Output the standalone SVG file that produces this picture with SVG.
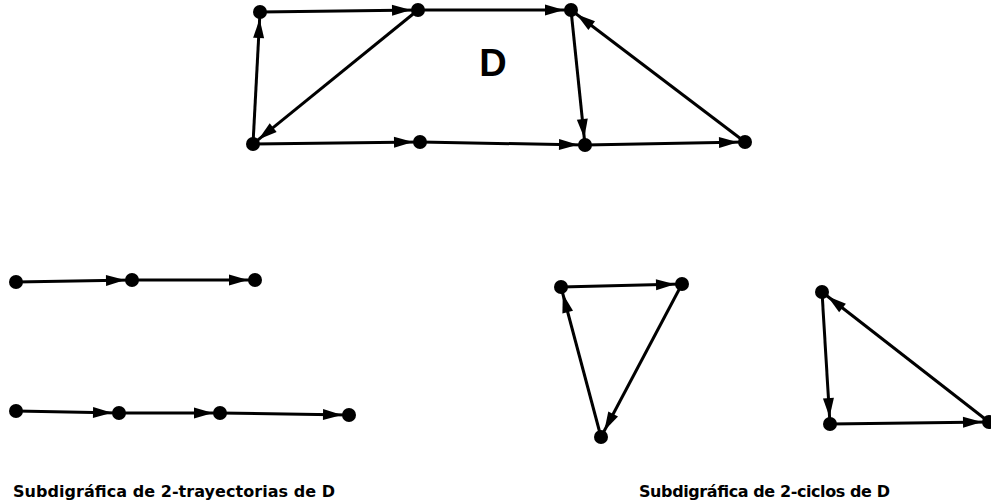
<svg xmlns="http://www.w3.org/2000/svg" width="991" height="504" viewBox="0 0 991 504">
<defs>
<marker id="ah" viewBox="-20 -6 28 12" markerWidth="28" markerHeight="12" refX="7" refY="0" orient="auto" markerUnits="userSpaceOnUse">
<path d="M-19,-5.5 L0,0 L-19,5.5 Z" fill="#000"/>
</marker>
<style>
.e{stroke:#000;stroke-width:3;fill:none;marker-end:url(#ah)}
.n{fill:#000}
.lbl{font-family:"DejaVu Sans",sans-serif;font-weight:bold;font-size:16px;fill:#000}
.t{font-family:"Liberation Sans",Arial,sans-serif;font-weight:bold;font-size:38px;fill:#000}
</style>
</defs>
<rect width="991" height="504" fill="#fff"/>
<g id="connectors">
<line class="e" x1="260" y1="12" x2="418" y2="10"/>
<line class="e" x1="418" y1="10" x2="571" y2="10"/>
<line class="e" x1="418" y1="10" x2="253" y2="144"/>
<line class="e" x1="253" y1="144" x2="260" y2="12"/>
<line class="e" x1="253" y1="144" x2="420" y2="142"/>
<line class="e" x1="420" y1="142" x2="585" y2="145"/>
<line class="e" x1="571" y1="10" x2="585" y2="145"/>
<line class="e" x1="745" y1="142" x2="571" y2="10"/>
<line class="e" x1="585" y1="145" x2="745" y2="142"/>
<line class="e" x1="16" y1="282" x2="132" y2="280"/>
<line class="e" x1="132" y1="280" x2="255" y2="280"/>
<line class="e" x1="16" y1="411" x2="119" y2="413"/>
<line class="e" x1="119" y1="413" x2="220" y2="413"/>
<line class="e" x1="220" y1="413" x2="349" y2="415"/>
<line class="e" x1="561" y1="287" x2="682" y2="284"/>
<line class="e" x1="682" y1="284" x2="601" y2="437"/>
<line class="e" x1="601" y1="437" x2="561" y2="287"/>
<line class="e" x1="822" y1="292" x2="830" y2="424"/>
<line class="e" x1="830" y1="424" x2="989" y2="422"/>
<line class="e" x1="989" y1="422" x2="822" y2="292"/>
</g>
<g id="D">
<circle id="D-a" class="n" cx="260" cy="12" r="7"/>
<circle id="D-b" class="n" cx="418" cy="10" r="7"/>
<circle id="D-c" class="n" cx="571" cy="10" r="7"/>
<circle id="D-e" class="n" cx="253" cy="144" r="7"/>
<circle id="D-f" class="n" cx="420" cy="142" r="7"/>
<circle id="D-g" class="n" cx="585" cy="145" r="7"/>
<circle id="D-h" class="n" cx="745" cy="142" r="7"/>
<text class="t" x="493" y="76" text-anchor="middle">D</text>
</g>
<g id="paths">
<circle id="p1a" class="n" cx="16" cy="282" r="7"/>
<circle id="p1b" class="n" cx="132" cy="280" r="7"/>
<circle id="p1c" class="n" cx="255" cy="280" r="7"/>
<circle id="p2a" class="n" cx="16" cy="411" r="7"/>
<circle id="p2b" class="n" cx="119" cy="413" r="7"/>
<circle id="p2c" class="n" cx="220" cy="413" r="7"/>
<circle id="p2d" class="n" cx="349" cy="415" r="7"/>
<text class="lbl" x="13" y="497" textLength="322" lengthAdjust="spacing">Subdigráfica de 2-trayectorias de D</text>
</g>
<g id="cycles">
<circle id="c1a" class="n" cx="561" cy="287" r="7"/>
<circle id="c1b" class="n" cx="682" cy="284" r="7"/>
<circle id="c1c" class="n" cx="601" cy="437" r="7"/>
<circle id="c2a" class="n" cx="822" cy="292" r="7"/>
<circle id="c2b" class="n" cx="830" cy="424" r="7"/>
<circle id="c2c" class="n" cx="989" cy="422" r="7"/>
<text class="lbl" x="639" y="497" textLength="251" lengthAdjust="spacing">Subdigráfica de 2-ciclos de D</text>
</g>
</svg>
